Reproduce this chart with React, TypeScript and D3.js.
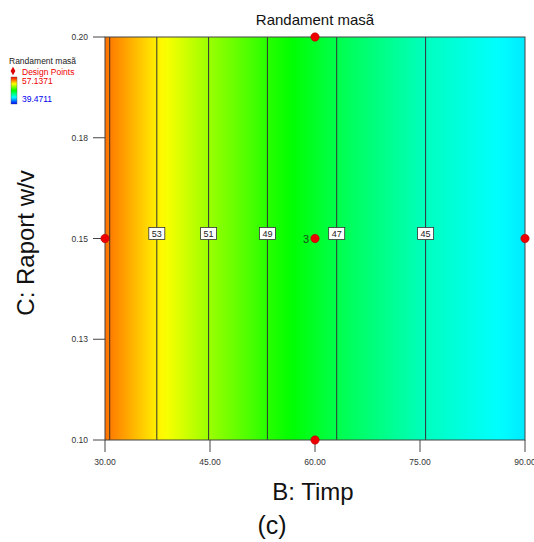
import React, { useEffect, useRef } from "react";
import * as d3 from "d3";

// B: Timp (x) vs C: Raport w/v (y)
const timeTicks = [30, 45, 60, 75, 90];
const ratioTicks = [0.1, 0.125, 0.15, 0.175, 0.2];
const ratioTickLabels = ["0.10", "0.13", "0.15", "0.18", "0.20"];

// response (depends on time only)
const timeKnots = [30, 37.4, 44.8, 53.2, 63.1, 75.8, 90];
const responseKnots = [55.2, 53, 51, 49, 47, 45, 43.5];

const contourLevels = [55, 53, 51, 49, 47, 45];
const labelledLevels = [53, 51, 49, 47, 45];

const designTimes = [30, 60, 60, 60, 90];
const designRatios = [0.15, 0.2, 0.15, 0.1, 0.15];
const designCounts = [1, 1, 3, 1, 1];

const respMax = 57.1371;
const respMin = 39.4711;

function App() {
  const ref = useRef<SVGSVGElement>(null);

  useEffect(() => {
    const width = 534;
    const height = 542;
    const left = 105;
    const right = 525;
    const top = 37;
    const bottom = 440;

    const svg = d3.select(ref.current);
    svg.selectAll("*").remove();

    const x = d3.scaleLinear().domain([30, 90]).range([left, right]);
    const y = d3.scaleLinear().domain([0.1, 0.2]).range([bottom, top]);
    const resp = d3.scaleLinear().domain(timeKnots).range(responseKnots);

    const step = (respMax - respMin) / 4;
    const color = d3
      .scaleLinear<string>()
      .domain([respMin, respMin + step, respMin + 2 * step, respMin + 3 * step, respMax])
      .range(["#0000ff", "#00ffff", "#00ff00", "#ffff00", "#ff0000"])
      .clamp(true);

    const defs = svg.append("defs");
    const grad = defs
      .append("linearGradient")
      .attr("id", "fill")
      .attr("x1", "0%")
      .attr("x2", "100%")
      .attr("y1", "0%")
      .attr("y2", "0%");
    const ts = d3.range(30, 90.01, 1);
    grad
      .selectAll("stop")
      .data(ts)
      .enter()
      .append("stop")
      .attr("offset", (d) => `${((d - 30) / 60) * 100}%`)
      .attr("stop-color", (d) => color(resp(d)));

    const lg = defs
      .append("linearGradient")
      .attr("id", "legend")
      .attr("x1", "0%")
      .attr("x2", "0%")
      .attr("y1", "0%")
      .attr("y2", "100%");
    ["#ff0000", "#ffff00", "#00ff00", "#00ffff", "#0000ff"].forEach((c, i) => {
      lg.append("stop").attr("offset", `${i * 25}%`).attr("stop-color", c);
    });

    svg
      .append("rect")
      .attr("x", left)
      .attr("y", top)
      .attr("width", right - left)
      .attr("height", bottom - top)
      .attr("fill", "url(#fill)");

    // contour lines
    contourLevels.forEach((lv) => {
      const cx = x(resp.invert(lv));
      svg
        .append("line")
        .attr("x1", cx)
        .attr("x2", cx)
        .attr("y1", top)
        .attr("y2", bottom)
        .attr("stroke", "#333")
        .attr("stroke-width", 1);
    });

    const font = "Arial, Liberation Sans, sans-serif";

    labelledLevels.forEach((lv) => {
      const cx = x(resp.invert(lv));
      const cy = y(0.15) - 5;
      svg
        .append("rect")
        .attr("x", cx - 8)
        .attr("y", cy - 6)
        .attr("width", 16)
        .attr("height", 12)
        .attr("fill", "white")
        .attr("stroke", "#333")
        .attr("stroke-width", 0.8);
      svg
        .append("text")
        .attr("x", cx)
        .attr("y", cy + 3.5)
        .attr("text-anchor", "middle")
        .attr("font-family", font)
        .attr("font-size", 9)
        .attr("fill", "#222")
        .text(lv);
    });

    // frame
    svg
      .append("rect")
      .attr("x", left)
      .attr("y", top)
      .attr("width", right - left)
      .attr("height", bottom - top)
      .attr("fill", "none")
      .attr("stroke", "#444")
      .attr("stroke-width", 1);

    // y axis
    ratioTicks.forEach((t, i) => {
      svg
        .append("line")
        .attr("x1", left - 12)
        .attr("x2", left)
        .attr("y1", y(t))
        .attr("y2", y(t))
        .attr("stroke", "#444");
      svg
        .append("text")
        .attr("x", left - 17)
        .attr("y", y(t) + 3)
        .attr("text-anchor", "end")
        .attr("font-family", font)
        .attr("font-size", 8.5)
        .attr("fill", "#333")
        .text(ratioTickLabels[i]);
    });

    // x axis
    timeTicks.forEach((t) => {
      svg
        .append("line")
        .attr("x1", x(t))
        .attr("x2", x(t))
        .attr("y1", bottom)
        .attr("y2", bottom + 12)
        .attr("stroke", "#444");
      svg
        .append("text")
        .attr("x", x(t))
        .attr("y", bottom + 25)
        .attr("text-anchor", "middle")
        .attr("font-family", font)
        .attr("font-size", 8.5)
        .attr("fill", "#333")
        .text(t.toFixed(2));
    });

    // design points
    designTimes.forEach((t, i) => {
      svg
        .append("circle")
        .attr("cx", x(t))
        .attr("cy", y(designRatios[i]))
        .attr("r", 4.2)
        .attr("fill", "#ee0000")
        .attr("stroke", "#aa0000")
        .attr("stroke-width", 0.5);
      if (designCounts[i] > 1) {
        svg
          .append("text")
          .attr("x", x(t) - 6)
          .attr("y", y(designRatios[i]) + 4)
          .attr("text-anchor", "end")
          .attr("font-family", font)
          .attr("font-size", 11)
          .attr("fill", "#1a4a1a")
          .text(designCounts[i]);
      }
    });

    // titles
    svg
      .append("text")
      .attr("x", 315)
      .attr("y", 25)
      .attr("text-anchor", "middle")
      .attr("font-family", font)
      .attr("font-size", 15)
      .attr("fill", "#111")
      .text("Randament masã");

    svg
      .append("text")
      .attr("x", 313)
      .attr("y", 500)
      .attr("text-anchor", "middle")
      .attr("font-family", font)
      .attr("font-size", 24)
      .attr("fill", "#111")
      .text("B: Timp");

    svg
      .append("text")
      .attr("transform", `translate(34, 243) rotate(-90)`)
      .attr("text-anchor", "middle")
      .attr("font-family", font)
      .attr("font-size", 24)
      .attr("fill", "#111")
      .text("C: Raport w/v");

    svg
      .append("text")
      .attr("x", 272)
      .attr("y", 534)
      .attr("text-anchor", "middle")
      .attr("font-family", font)
      .attr("font-size", 25)
      .attr("fill", "#111")
      .text("(c)");

    // legend
    svg
      .append("text")
      .attr("x", 9)
      .attr("y", 64)
      .attr("font-family", font)
      .attr("font-size", 8.5)
      .attr("fill", "#222")
      .text("Randament masã");
    svg
      .append("path")
      .attr("d", d3.symbol(d3.symbolDiamond, 20)())
      .attr("transform", "translate(13,71)")
      .attr("fill", "#dd0000");
    svg
      .append("text")
      .attr("x", 22)
      .attr("y", 74.5)
      .attr("font-family", font)
      .attr("font-size", 8.5)
      .attr("fill", "#ee0000")
      .text("Design Points");
    svg
      .append("rect")
      .attr("x", 11)
      .attr("y", 77)
      .attr("width", 6)
      .attr("height", 27)
      .attr("fill", "url(#legend)")
      .attr("stroke", "#555")
      .attr("stroke-width", 0.4);
    svg
      .append("text")
      .attr("x", 22)
      .attr("y", 84)
      .attr("font-family", font)
      .attr("font-size", 8.5)
      .attr("fill", "#ee0000")
      .text(respMax.toFixed(4));
    svg
      .append("text")
      .attr("x", 22)
      .attr("y", 102)
      .attr("font-family", font)
      .attr("font-size", 8.5)
      .attr("fill", "#0000ee")
      .text(respMin.toFixed(4));

    svg.attr("width", width).attr("height", height);
  }, []);

  return (
    <svg
      ref={ref}
      width={534}
      height={542}
      style={{ position: "absolute", left: 0, top: 0, background: "white" }}
    />
  );
}

export default App;
